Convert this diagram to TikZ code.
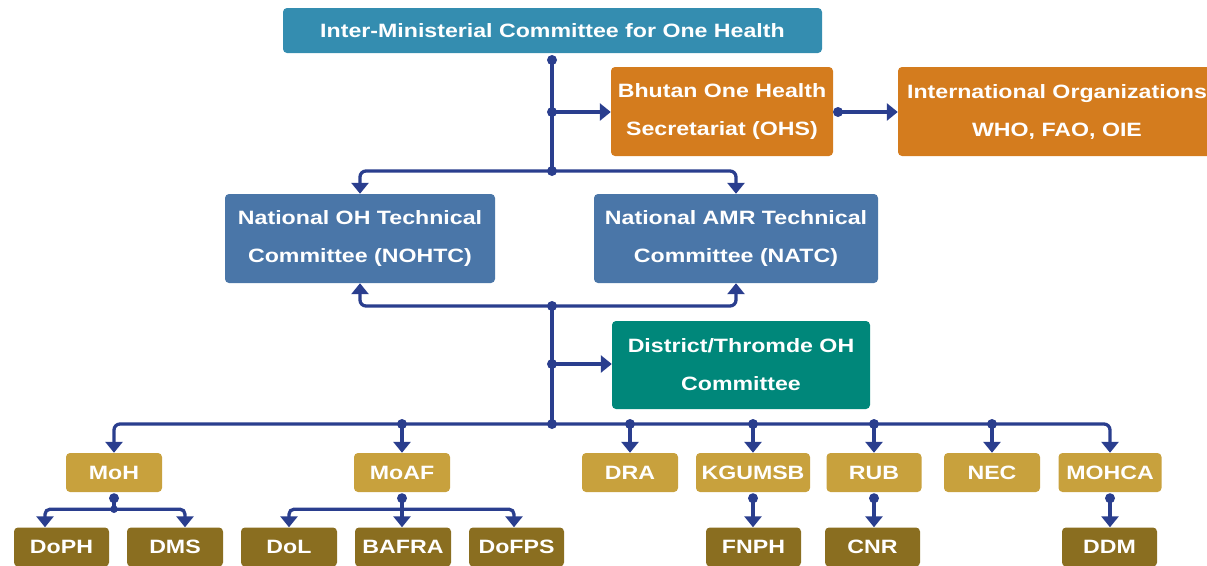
\documentclass[tikz,border=0pt]{standalone}
\usepackage{fontspec}
\newfontfamily\lab{Liberation Sans}[FakeStretch=1.2]
\usetikzlibrary{arrows.meta}
\definecolor{cTop}{RGB}{52,141,176}
\definecolor{cOrg}{RGB}{212,124,30}
\definecolor{cBlue}{RGB}{74,118,168}
\definecolor{cGreen}{RGB}{0,135,122}
\definecolor{cTan}{RGB}{200,161,61}
\definecolor{cDark}{RGB}{138,110,32}
\definecolor{cLine}{RGB}{42,62,142}
\begin{document}
\begin{tikzpicture}[x=1pt,y=-1pt,
  box/.style={rounded corners=4pt, text=white, align=center, inner sep=0pt,
    font=\lab\bfseries\fontsize{19.3}{38}\selectfont},
  small/.style={box, minimum height=39pt, minimum width=96pt},
  tan/.style={small, fill=cTan},
  dark/.style={small, fill=cDark},
  bus/.style={draw=cLine, line width=3.3pt},
  conn/.style={bus, -{Triangle[width=17pt,length=11pt]}},
  dotc/.style={fill=cLine}]
\useasboundingbox (0,0) rectangle (1207,565);
\clip (0,0) rectangle (1207,565);

% main boxes
\node[box, fill=cTop, minimum width=539pt, minimum height=45pt] (imc) at (552.5,30.5) {Inter-Ministerial Committee for One Health};
\node[box, fill=cOrg, minimum width=222pt, minimum height=89pt] (ohs) at (722,111.5) {Bhutan One Health\\Secretariat (OHS)};
\node[box, fill=cOrg, minimum width=318pt, minimum height=89pt] (intl) at (1057,111.5) {International Organizations\\WHO, FAO, OIE};
\node[box, fill=cBlue, minimum width=270pt, minimum height=89pt] (nohtc) at (360,238.5) {National OH Technical\\Committee (NOHTC)};
\node[box, fill=cBlue, minimum width=284pt, minimum height=89pt] (natc) at (736,238.5) {National AMR Technical\\Committee (NATC)};
\node[box, fill=cGreen, minimum width=258pt, minimum height=88pt] (dist) at (741,365) {District/Thromde OH\\Committee};

% tan row
\node[tan] (moh) at (114,472.5) {MoH};
\node[tan] (moaf) at (402,472.5) {MoAF};
\node[tan] (dra) at (630,472.5) {DRA};
\node[tan, minimum width=114pt] (kgumsb) at (753,472.5) {KGUMSB};
\node[tan, minimum width=95pt] (rub) at (874,472.5) {RUB};
\node[tan] (nec) at (992,472.5) {NEC};
\node[tan, minimum width=103pt] (mohca) at (1110,472.5) {MOHCA};

% dark row
\node[dark, minimum width=95pt] (doph) at (61.5,547) {DoPH};
\node[dark] (dms) at (175,547) {DMS};
\node[dark] (dol) at (289,547) {DoL};
\node[dark] (bafra) at (403,547) {BAFRA};
\node[dark, minimum width=95pt] (dofps) at (516.5,547) {DoFPS};
\node[dark, minimum width=95pt] (fnph) at (753.5,547) {FNPH};
\node[dark, minimum width=95pt] (cnr) at (872.5,547) {CNR};
\node[dark, minimum width=95pt] (ddm) at (1109.5,547) {DDM};

% junction points
\coordinate (d1) at (552,60);
\coordinate (d2) at (552,112);
\coordinate (j1) at (552,171);
\coordinate (d3) at (838,112);
\coordinate (j2) at (552,306);
\coordinate (d4) at (552,364);
\coordinate (j3) at (552,424);

% upper connectors
\draw[bus] (d1) -- (j1);
\draw[conn] (d2) -- (d2 -| ohs.west);
\draw[conn] (d3) -- (d3 -| intl.west);
\draw[conn, rounded corners=6pt] (j1) -| (nohtc.north);
\draw[conn, rounded corners=6pt] (j1) -| (natc.north);
\draw[conn, rounded corners=6pt] (j2) -| (nohtc.south);
\draw[conn, rounded corners=6pt] (j2) -| (natc.south);
\draw[bus] (j2) -- (j3);
\draw[conn] (d4) -- (d4 -| dist.west);

% bottom bus
\draw[conn, rounded corners=6pt] (j3) -| (moh.north);
\draw[conn, rounded corners=6pt] (j3) -| (mohca.north);
\foreach \n in {moaf,dra,kgumsb,rub,nec}{
  \draw[conn] (\n.north |- j3) -- (\n.north);
  \fill[dotc] (\n.north |- j3) circle (5pt);
}

% sub branches
\coordinate (m1) at ([yshift=-6pt]moh.south);
\coordinate (m2) at ([yshift=-17pt]moh.south);
\draw[bus] (m1) -- (m2);
\draw[conn, rounded corners=5pt] (m2) -| ([xshift=-16.5pt]doph.north);
\draw[conn, rounded corners=5pt] (m2) -| ([xshift=10pt]dms.north);
\coordinate (m3) at ([yshift=-6pt]moaf.south);
\coordinate (m4) at ([yshift=-17pt]moaf.south);
\draw[conn] (m3) -- (m3 |- bafra.north);
\draw[conn, rounded corners=5pt] (m4) -| (dol.north);
\draw[conn, rounded corners=5pt] (m4) -| ([xshift=-2.5pt]dofps.north);
\coordinate (k1) at ([yshift=-6pt]kgumsb.south);
\draw[conn] (k1) -- (k1 |- fnph.north);
\coordinate (r1) at ([yshift=-6pt]rub.south);
\draw[conn] (r1) -- (r1 |- cnr.north);
\coordinate (h1) at ([yshift=-6pt]mohca.south);
\draw[conn] (h1) -- (h1 |- ddm.north);

% dots
\foreach \p in {d1,d2,j1,d3,j2,d4,j3,m1,m3,k1,r1,h1}{
  \fill[dotc] (\p) circle (5pt);
}
\fill[dotc] (m2) circle (3.8pt);
\end{tikzpicture}
\end{document}
